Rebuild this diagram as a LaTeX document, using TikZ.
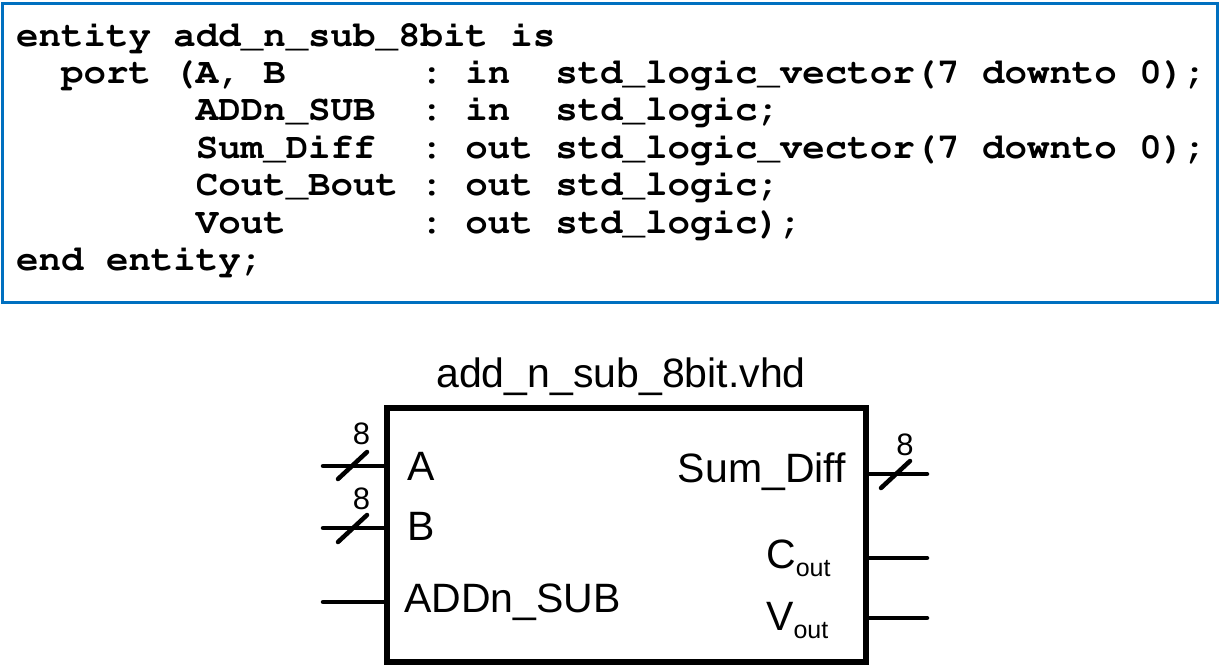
\documentclass[tikz,border=0pt]{standalone}
\usepackage[T1]{fontenc}
\usepackage{fontspec}
\usepackage{graphicx}
\usetikzlibrary{calc}
\newfontfamily\lblfont{Liberation Sans}
\definecolor{boxblue}{RGB}{0,112,192}
\newcommand{\vhdl}[1]{\scalebox{1.04}[1]{#1}}
\newcommand{\outsub}{\raisebox{-8pt}{\fontsize{25}{25}\selectfont out}}

\begin{document}
\begin{tikzpicture}[x=1pt, y=-1pt,
    codeline/.style={anchor=base west, inner sep=0pt,
        font=\fontencoding{T1}\fontfamily{pcr}\fontseries{b}\fontshape{n}\fontsize{36}{37.4}\selectfont\frenchspacing},
    lbl/.style={inner sep=0pt, font=\lblfont\fontsize{41}{41}\selectfont},
    buswidth/.style={inner sep=0pt, font=\lblfont\fontsize{31}{31}\selectfont},
    wire/.style={line width=4.5pt, line cap=round},
    slashmark/.style={line width=4.5pt, line cap=round}]
    \useasboundingbox (0,0) rectangle (1220,667);

    % entity declaration
    \node[draw=boxblue, line width=3pt, minimum width=1215pt, minimum height=299pt,
          inner sep=0pt, outer sep=0pt] (codebox) at (610,153) {};
    \node[codeline] (c1) at (16,46)    {\vhdl{entity add\_n\_sub\_8bit is}};
    \node[codeline] (c2) at (16,83.4)  {\vhdl{~~port (A, B~~~~~~: in~~std\_logic\_vector(7 downto 0);}};
    \node[codeline] (c3) at (16,120.8) {\vhdl{~~~~~~~~ADDn\_SUB~~: in~~std\_logic;}};
    \node[codeline] (c4) at (16,158.2) {\vhdl{~~~~~~~~Sum\_Diff~~: out std\_logic\_vector(7 downto 0);}};
    \node[codeline] (c5) at (16,195.6) {\vhdl{~~~~~~~~Cout\_Bout : out std\_logic;}};
    \node[codeline] (c6) at (16,233)   {\vhdl{~~~~~~~~Vout~~~~~~: out std\_logic);}};
    \node[codeline] (c7) at (16,270.4) {\vhdl{end entity;}};

    % block symbol
    \node[draw, line width=5.5pt, minimum width=479pt, minimum height=254pt,
          inner sep=0pt, outer sep=0pt] (ent) at (626.5,535) {};
    \node[lbl, anchor=base] (title) at (621,387) {add\_n\_sub\_8bit.vhd};

    \coordinate (inA) at (323,466);
    \coordinate (inB) at (323,528);
    \coordinate (inS) at (323,602);
    \coordinate (outD) at (927,474);
    \coordinate (outC) at (927,558);
    \coordinate (outV) at (927,618);

    \draw[wire] (inA) -- (inA -| ent.west);
    \draw[wire] (inB) -- (inB -| ent.west);
    \draw[wire] (inS) -- (inS -| ent.west);
    \draw[wire] (outD -| ent.east) -- (outD);
    \draw[wire] (outC -| ent.east) -- (outC);
    \draw[wire] (outV -| ent.east) -- (outV);

    % bus slashes
    \draw[slashmark] ($(inA)+(15,13)$) -- ($(inA)+(44,-14)$);
    \draw[slashmark] ($(inB)+(15,14)$) -- ($(inB)+(44,-13)$);
    \draw[slashmark] ($(outD)+(-46,14)$) -- ($(outD)+(-17,-13)$);
    \node[buswidth] (wA) at ($(inA)+(38.5,-32)$) {8};
    \node[buswidth] (wB) at ($(inB)+(38.5,-29)$) {8};
    \node[buswidth] (wD) at ($(outD)+(-22,-29)$) {8};

    % port names
    \node[lbl, anchor=base west] (lA) at (407,480) {A};
    \node[lbl, anchor=base west] (lB) at (407,540) {B};
    \node[lbl, anchor=base west] (lS) at (404,612) {ADDn\_SUB};
    \node[lbl, anchor=base east] (lD) at (846,482) {Sum\_Diff};
    \node[lbl, anchor=base west] (lC) at (766,568) {C\outsub};
    \node[lbl, anchor=base west] (lV) at (766,630) {V\outsub};
\end{tikzpicture}
\end{document}
